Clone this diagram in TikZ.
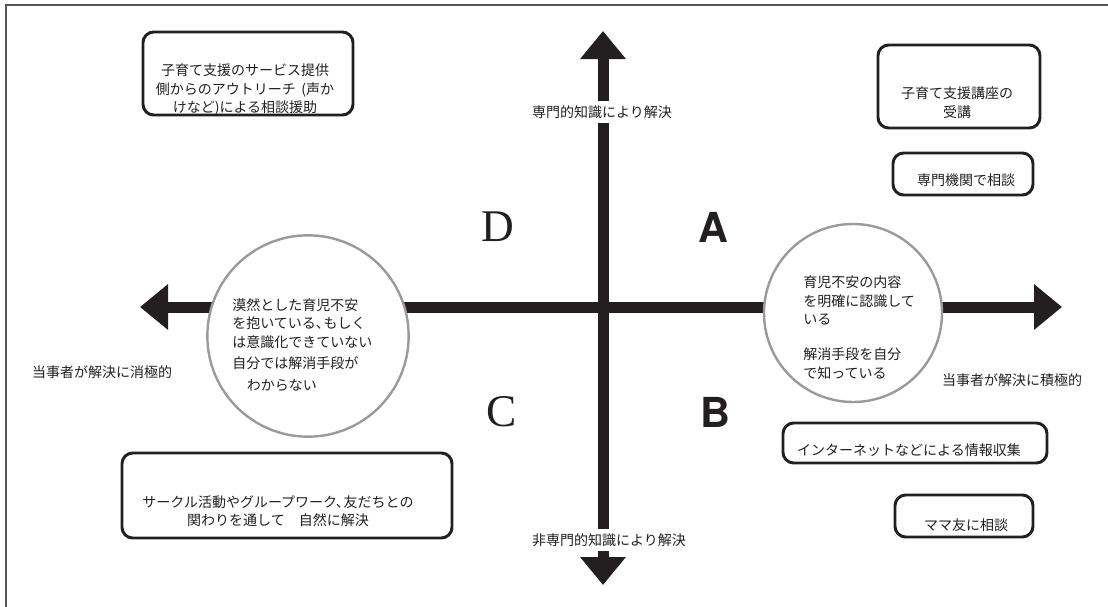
\documentclass[tikz,border=0pt]{standalone}
\usepackage{fontspec}
\newfontfamily\jp{Noto Sans CJK JP}
\newfontfamily\heros{TeX Gyre Heros}
\newfontfamily\lserif{Liberation Serif}
\usetikzlibrary{arrows.meta}
\definecolor{ink}{HTML}{231F20}
\definecolor{ringc}{HTML}{9A9A9A}
\definecolor{framec}{HTML}{555555}
\newcommand\tcomma{、\kern-.45em}
\begin{document}
\begin{tikzpicture}[x=0.75pt,y=-0.75pt,
  box/.style={draw=ink, line width=2.2pt, rounded corners=8pt, inner sep=0pt},
  jtxt/.style={font=\jp\fontsize{10.5}{13.9}\selectfont, inner sep=0pt, text=ink},
  lbl/.style={jtxt, fill=white, inner sep=3pt},
  axisline/.style={draw=ink, line width=8.25pt, {Triangle[length=21pt,width=33pt]}-{Triangle[length=21pt,width=33pt]}},
  ring/.style={circle, draw=ringc, line width=1.8pt, fill=white, inner sep=0pt},
  serifL/.style={font=\lserif\fontsize{34}{34}\selectfont, text=ink, inner sep=0pt},
  sansL/.style={font=\heros\bfseries\fontsize{31}{31}\selectfont, text=ink, inner sep=0pt}]

\useasboundingbox (0,0) rectangle (1108,607);

% frame
\draw[framec, line width=1.5pt] (6,607) -- (6,5) -- (1108,5);

% axes
\coordinate (W) at (140,307);
\coordinate (E) at (1062,307);
\coordinate (N) at (603,31);
\coordinate (S) at (603,585);
\draw[axisline] (W) -- (E);
\draw[axisline] (N) -- (S);

% circles
\node[ring, minimum size=151pt] (cl) at (308,336) {};
\node[ring, minimum size=133.5pt] (cr) at (853,313) {};

\node[jtxt, align=left, anchor=west] (tcl) at (232,345)
  {漠然とした育児不安\\を抱いている\tcomma もしく\\は意識化できていない\\[1.9pt]自分では解消手段が\\[2.6pt]\hspace*{11pt}わからない};
\node[jtxt, align=left, anchor=west] (tcr) at (803,327.5)
  {育児不安の内容\\を明確に認識して\\いる\\[12.4pt]解消手段を自分\\で知っている};

% axis labels
\node[lbl] (ln) at (602,112) {専門的知識により解決};
\node[lbl] (ls) at (609,540) {非専門的知識により解決};
\node[jtxt] (lw) at (102,372) {当事者が解決に消極的};
\node[jtxt] (le) at (1012,380) {当事者が解決に積極的};

% quadrant letters
\node[serifL] (qD) at (498,227) {D};
\node[sansL] (qA) at (713,227) {A};
\node[serifL] (qC) at (502,412) {C};
\node[sansL] (qB) at (715,412) {B};

% boxes
\node[box, minimum width=157.5pt, minimum height=62.25pt] (b1) at (248,73.5) {};
\node[jtxt, align=center] (t1) at (245,89.5)
  {子育て支援のサービス提供\\側からのアウトリーチ\hspace{4pt}(声か\\けなど)による相談援助};

\node[box, minimum width=121.5pt, minimum height=62.25pt] (b2) at (959,86.5) {};
\node[jtxt, align=center] (t2) at (957,102.5) {子育て支援講座の\\受講};

\node[box, minimum width=105pt, minimum height=31.5pt] (b3) at (963,174) {};
\node[jtxt] (t3) at (966,180) {専門機関で相談};

\node[box, minimum width=247.5pt, minimum height=63.75pt] (b4) at (287,495.5) {};
\node[jtxt, align=center] (t4) at (278,511)
  {サークル活動やグループワーク\tcomma 友だちとの\\関わりを通して　自然に解決};

\node[box, minimum width=198pt, minimum height=30pt] (b5) at (915,443) {};
\node[jtxt] (t5) at (909,450) {インターネットなどによる情報収集};

\node[box, minimum width=103.5pt, minimum height=31.5pt] (b6) at (964,516) {};
\node[jtxt] (t6) at (966,525) {ママ友に相談};

\end{tikzpicture}
\end{document}
